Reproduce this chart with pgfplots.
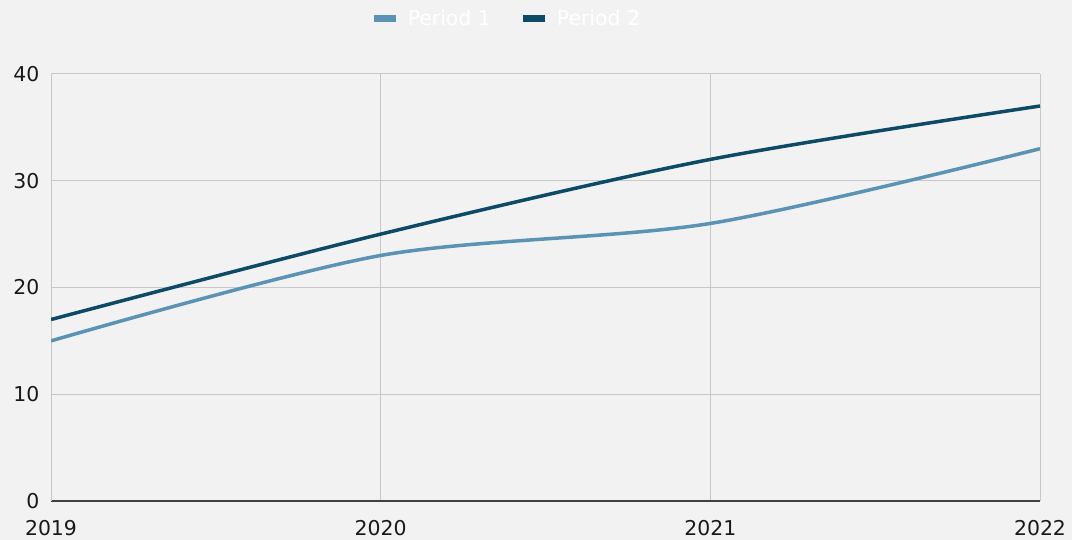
\documentclass[border=0pt]{standalone}
\usepackage{fontspec}
\setmainfont{DejaVu Sans}
\usepackage{pgfplots}
\pgfplotsset{compat=1.18}
\definecolor{bg}{HTML}{F2F2F2}
\definecolor{pone}{HTML}{5B93B5}
\definecolor{ptwo}{HTML}{0D4A66}
\definecolor{gridc}{HTML}{C8C8C8}
\begin{document}
\begin{tikzpicture}
\path[use as bounding box, fill=bg] (0,0) rectangle (1072bp,540bp);
\begin{axis}[
  at={(51bp,39bp)}, anchor=south west,
  scale only axis, width=989bp, height=427bp,
  xmin=2019, xmax=2022, ymin=0, ymax=40,
  xtick={2019,2020,2021,2022}, ytick={0,10,20,30,40},
  grid=major, major grid style={gridc, line width=1bp},
  major tick length=0pt,
  axis x line*=bottom, axis y line*=left,
  x axis line style={black!75, line width=1.5bp, -},
  y axis line style={gridc, line width=1bp, -},
  /pgf/number format/assume math mode=true,
  /pgf/number format/1000 sep={},
  tick label style={font=\fontsize{20.5}{22}\selectfont, text=black!90},
  yticklabel style={xshift=-8bp},
  xticklabel style={yshift=-16bp},
  legend style={at={(0.462,1.131)}, anchor=center, draw=none, fill=none,
    legend columns=2, font=\fontsize{20.5}{22}\selectfont, text=white,
    /tikz/every odd column/.append style={column sep=10bp},
    /tikz/every even column/.append style={column sep=30bp}},
  legend image code/.code={\fill[#1, draw=none] (0bp,-3.5bp) rectangle (22bp,3.5bp);},
]
\addplot[pone, line width=3.5bp, smooth, tension=0.5] coordinates {(2019,15) (2020,23) (2021,26) (2022,33)};
\addlegendentry{Period 1}
\addplot[ptwo, line width=3.5bp, smooth, tension=0.5] coordinates {(2019,17) (2020,25) (2021,32) (2022,37)};
\addlegendentry{Period 2}
\end{axis}
\end{tikzpicture}
\end{document}
